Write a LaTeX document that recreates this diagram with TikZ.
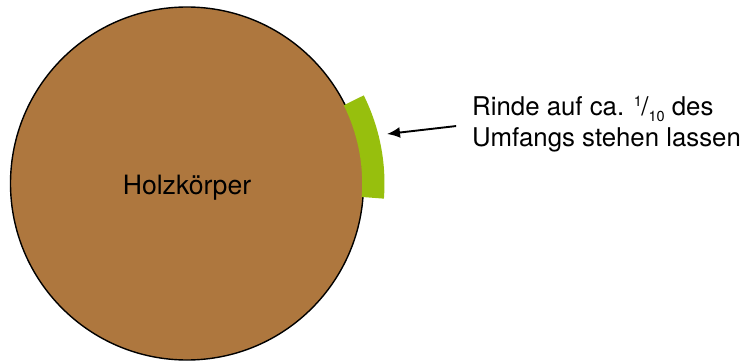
\documentclass[tikz,border=0pt]{standalone}
\usepackage{fontspec}
\setmainfont{TeX Gyre Heros}
\usetikzlibrary{arrows.meta,calc}
\definecolor{holzbraun}{HTML}{AE773E}
\definecolor{rindegruen}{HTML}{97BF0D}
\begin{document}
\begin{tikzpicture}[x=1pt,y=-1pt,
  holzstyle/.style={circle,draw=black,line width=1.4pt,fill=holzbraun,minimum size=353pt,inner sep=0pt},
  rindestyle/.style={fill=rindegruen,draw=none},
  labelstyle/.style={inner sep=0pt,font=\fontsize{25.8}{31.7}\selectfont},
  pfeil/.style={-{Latex[length=13pt,width=11pt]},line width=1.9pt}]
\useasboundingbox (0,0) rectangle (747,361);
\node[holzstyle] (holz) at (187,183.5) {};
\fill[rindestyle] ($(holz.center)+(-26.5:197.5)$) arc[start angle=-26.5,end angle=4.4,radius=197.5]
  -- ($(holz.center)+(4.4:175.2)$) arc[start angle=4.4,end angle=-26.5,radius=175.2] -- cycle;
\node[labelstyle,font=\fontsize{26.6}{30}\selectfont,anchor=base] (holzlabel) at (187,194) {Holzkörper};
\node[labelstyle,anchor=base west,align=left] (rinde) at (472,146.7)
  {Rinde auf ca. \raisebox{0.33em}{\fontsize{14.5}{14.5}\selectfont 1}\kern-0.5pt/\raisebox{-0.27em}{\fontsize{14.5}{14.5}\selectfont 10} des\\Umfangs stehen lassen};
\coordinate (tip) at (387,134);
\draw[pfeil,shorten <=16pt] (rinde.west) -- (tip);
\end{tikzpicture}
\end{document}
